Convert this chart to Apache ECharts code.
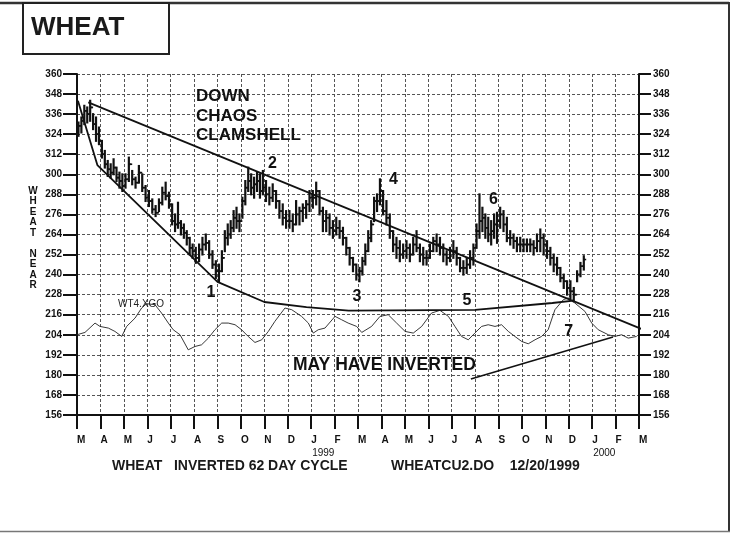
<!DOCTYPE html>
<html>
<head>
<meta charset="utf-8">
<script src="https://cdn.jsdelivr.net/npm/echarts@6/dist/echarts.min.js"></script>
<style>
  html, body { margin: 0; padding: 0; background: #fff; }
  #chart { width: 731px; height: 533px; }
</style>
</head>
<body>
<div id="chart"></div>
<script>
// x axis runs in months from Mar 1998 (0) to Mar 2000 (24)
const monthLabels = ['M','A','M','J','J','A','S','O','N','D','J','F','M','A','M','J','J','A','S','O','N','D','J','F','M'];
const yearLabels = { 10: '1999', 22: '2000' };

// price bars, one inner array per month (Mar 98 .. Dec 99)
const highs = [
  [331,334,341,340,344,336,334,328],
  [320,314,308,306,309,304,301,300],
  [300,310,302,298,305,300,293],
  [290,285,281,285,292,295,289],
  [282,276,283,272,270,266,262,258],
  [256,258,262,264,260,254,248],
  [246,254,266,270,272,278,280,276],
  [286,296,304,300,298,301,300,302],
  [296,292,294,290,284,282,278],
  [278,276,284,280,282,284,290],
  [290,295,290,280,278,276,272],
  [274,272,268,262,256,250,246],
  [244,250,258,266,272,286,288,297],
  [290,284,276,266,262,260,258],
  [260,258,262,266,258,256,254],
  [258,262,264,262,258,254,256],
  [260,256,250,248,250,254,258],
  [270,288,280,276,274,272,276,277],
  [280,278,274,266,264,262,262],
  [261,261,261,260,264,267,264],
  [260,256,252,250,244,240,236],
  [236,232,242,247,251]
];
const lows = [
  [323,325,330,331,332,327,320,318],
  [310,304,299,298,300,296,292,290],
  [292,296,294,292,295,290,284],
  [281,277,275,278,282,285,280],
  [270,266,268,264,262,258,252,250],
  [247,248,252,255,250,244,238],
  [236,242,254,258,262,266,268,266],
  [274,282,290,288,286,290,286,288],
  [284,282,284,280,274,270,268],
  [268,266,270,270,272,274,278],
  [280,282,276,266,266,264,262],
  [264,262,258,252,246,242,237],
  [236,240,246,254,260,272,278,282],
  [276,270,262,254,250,248,250],
  [250,248,252,254,248,246,246],
  [250,254,254,252,248,246,248],
  [250,246,242,240,241,244,246],
  [256,262,266,262,260,258,262,259],
  [268,266,260,258,256,254,254],
  [254,254,254,252,254,254,252],
  [250,246,242,240,236,232,228],
  [226,224,236,239,243]
];
const closes = [
  [329,332,338,336,340,330,324,320],
  [312,306,303,301,304,298,296,293],
  [297,306,297,295,301,292,286],
  [284,279,277,283,289,287,282],
  [272,270,271,268,265,262,256,254],
  [250,255,258,259,252,246,242],
  [242,250,262,264,268,274,272,272],
  [284,292,296,292,294,296,290,292],
  [288,286,290,284,278,274,272],
  [272,270,276,278,280,282,286],
  [286,290,278,272,274,268,266],
  [268,266,262,256,250,246,240],
  [242,248,254,262,270,284,284,290],
  [278,274,266,258,256,252,254],
  [256,252,258,256,252,250,250],
  [254,260,258,256,252,250,254],
  [254,250,244,244,246,250,256],
  [266,272,274,268,264,266,270,272],
  [276,270,262,262,260,258,258],
  [258,258,258,256,260,262,258],
  [254,250,246,244,238,236,232],
  [230,228,240,245,249]
];

// WT4.XGO cycle line [month, value]
const cycle = [
  [0,204],[0.34,205.4],[0.77,211],[0.98,209],[1.34,208],[1.62,206],[1.91,203],
  [2.12,209],[2.48,214],[2.76,220],[2.97,222.6],[3.33,222],[3.61,217],[3.9,211],
  [4.11,207],[4.4,204],[4.75,195],[5.04,197],[5.32,198],[5.61,202],[5.89,207],
  [6.18,211],[6.46,211],[6.75,210],[7.03,207],[7.31,203],[7.6,199.4],[7.89,201],
  [8.17,206],[8.45,212],[8.88,220],[9.17,219],[9.59,215],[9.88,211],[10.09,205],
  [10.3,207],[10.59,208],[11.02,215],[11.3,213],[11.58,211],[11.94,209],[12.16,205.4],
  [12.58,209],[12.94,215],[13.29,216],[13.65,211],[14.01,206],[14.36,205],[14.72,209],
  [15.14,217],[15.5,218.6],[15.86,215],[16.14,209],[16.42,203],[16.71,201],[16.99,205],
  [17.28,209],[17.56,210],[17.85,209],[18.13,210],[18.42,206],[18.7,203],[18.99,200],
  [19.27,198.6],[19.56,201],[19.84,203],[20.12,207],[20.41,219],[20.77,225],[20.98,226],
  [21.26,223],[21.69,218],[21.98,211],[22.26,207],[22.69,204],[22.97,203],[23.26,204],
  [23.54,202],[23.9,203]
];

// hand drawn lines
const downLine = [[0.48,343],[25.24,201]];
const clamLine = [[0.04,344],[0.87,305.5],[6.0,235.6],[8.0,223.6],[9.8,220.5],[11.6,218.4],[17.0,218.9],[20.3,223],[21.2,224.4]];
const invertLine = [[16.82,177.6],[22.89,202.7]];

// numbered notes
const noteText = ['1','2','3','4','5','6','7'];
const notePos = [[5.72,229.3],[8.35,306.5],[11.96,226.9],[13.51,296.6],[16.65,224.2],[17.78,284.6],[21.0,206]];

const FONT = '"Liberation Sans", Arial, Helvetica, sans-serif';

const bars = [];
let prevClose = null;
highs.forEach((month, m) => {
  const step = 1 / Math.max(month.length, 7);
  month.forEach((h, i) => {
    const c = closes[m][i];
    const o = prevClose === null ? c : prevClose;
    bars.push([m + (i + 0.5) * step, h, lows[m][i], c, o]);
    prevClose = c;
  });
});

const chart = echarts.init(document.getElementById('chart'), null, { renderer: 'canvas' });

const dashed = { type: [3, 2], color: '#555', width: 1 };

chart.setOption({
  animation: false,
  backgroundColor: '#fff',
  grid: { left: 77, right: 92, top: 74, bottom: 118 },
  xAxis: {
    type: 'value', min: 0, max: 24, interval: 1,
    axisLine: { show: true, onZero: false, lineStyle: { color: '#111', width: 2 } },
    axisTick: { show: true, length: 14, lineStyle: { color: '#111', width: 2 } },
    splitLine: { show: true, lineStyle: dashed },
    axisLabel: {
      margin: 19, align: 'left', color: '#111',
      formatter: v => {
        const i = Math.round(v);
        const y = yearLabels[i];
        return y ? '{m|' + monthLabels[i] + '}\n{y|' + y + '}' : '{m|' + monthLabels[i] + '}';
      },
      rich: {
        m: { fontFamily: FONT, fontSize: 10, fontWeight: 'bold', lineHeight: 13, color: '#111' },
        y: { fontFamily: FONT, fontSize: 10, lineHeight: 13, color: '#111', padding: [0, 0, 0, 1] }
      }
    }
  },
  yAxis: [
    {
      type: 'value', min: 156, max: 360, interval: 12, position: 'left',
      axisLine: { show: true, lineStyle: { color: '#111', width: 2 } },
      axisTick: { show: true, length: 14, lineStyle: { color: '#111', width: 2 } },
      splitLine: { show: true, lineStyle: dashed },
      axisLabel: { margin: 15, fontFamily: FONT, fontSize: 10, fontWeight: 'bold', color: '#111' }
    },
    {
      type: 'value', min: 156, max: 360, interval: 12, position: 'right',
      axisLine: { show: true, lineStyle: { color: '#111', width: 2 } },
      axisTick: { show: true, length: 12, lineStyle: { color: '#111', width: 2 } },
      splitLine: { show: false },
      axisLabel: { margin: 14, fontFamily: FONT, fontSize: 10, fontWeight: 'bold', color: '#111' }
    }
  ],
  series: [
    {
      type: 'custom',
      data: bars,
      renderItem: (params, api) => {
        const x = api.value(0);
        const hi = api.coord([x, api.value(1)]);
        const lo = api.coord([x, api.value(2)]);
        const cl = api.coord([x, api.value(3)]);
        const op = api.coord([x, api.value(4)]);
        return {
          type: 'group',
          children: [
            { type: 'line', shape: { x1: hi[0], y1: hi[1] - 1, x2: lo[0], y2: lo[1] + 1 }, style: { stroke: '#111', lineWidth: 2.2 } },
            { type: 'line', shape: { x1: cl[0], y1: cl[1], x2: cl[0] + 2.4, y2: cl[1] }, style: { stroke: '#111', lineWidth: 1.6 } },
            { type: 'line', shape: { x1: op[0] - 2.4, y1: op[1], x2: op[0], y2: op[1] }, style: { stroke: '#111', lineWidth: 1.6 } }
          ]
        };
      },
      z: 3
    },
    {
      type: 'line', data: cycle, symbol: 'none', smooth: false,
      lineStyle: { color: '#222', width: 0.9 }, z: 2
    },
    {
      type: 'line', data: downLine, symbol: 'none', clip: false,
      lineStyle: { color: '#111', width: 1.8 }, z: 4
    },
    {
      type: 'line', data: clamLine, symbol: 'none',
      lineStyle: { color: '#111', width: 1.8 }, z: 4
    },
    {
      type: 'line', data: invertLine, symbol: 'none',
      lineStyle: { color: '#111', width: 1.6 }, z: 4
    },
    {
      type: 'scatter', symbolSize: 0,
      itemStyle: { color: '#111', opacity: 1 },
      data: notePos.map((p, i) => ({ value: p, name: noteText[i] })),
      label: {
        show: true, position: 'inside', formatter: '{b}',
        fontFamily: FONT, fontSize: 16, fontWeight: 'bold', color: '#111',
        textBorderWidth: 0, opacity: 1
      },
      z: 5
    }
  ],
  graphic: [
    { type: 'line', shape: { x1: 0, y1: 3, x2: 729, y2: 3 }, style: { stroke: '#333', lineWidth: 2.5 } },
    { type: 'line', shape: { x1: 729, y1: 2, x2: 729, y2: 532 }, style: { stroke: '#333', lineWidth: 2 } },
    { type: 'line', shape: { x1: 0, y1: 531.5, x2: 730, y2: 531.5 }, style: { stroke: '#777', lineWidth: 1.5 } },
    { type: 'rect', shape: { x: 23, y: 3, width: 146, height: 51 }, style: { fill: '#fff', stroke: '#222', lineWidth: 2 } },
    { type: 'text', style: { text: 'WHEAT', x: 31, y: 28, verticalAlign: 'middle', font: 'bold 26px ' + FONT, fill: '#1a1a1a' } },
    { type: 'text', style: { text: 'W\nH\nE\nA\nT\n\nN\nE\nA\nR', x: 33, y: 186, align: 'center', lineHeight: 10.45, font: 'bold 10px ' + FONT, fill: '#111' } },
    { type: 'text', z: 10, style: { text: 'DOWN\nCHAOS\nCLAMSHELL', x: 196, y: 87, lineHeight: 19.5, font: 'bold 17px ' + FONT, fill: '#111' } },
    { type: 'text', z: 10, style: { text: 'MAY HAVE INVERTED', x: 293, y: 365, verticalAlign: 'middle', font: 'bold 17.5px ' + FONT, fill: '#111' } },
    { type: 'text', z: 10, style: { text: 'WT4.XGO', x: 118, y: 304, verticalAlign: 'middle', font: '10px ' + FONT, fill: '#222' } },
    { type: 'text', style: { text: 'WHEAT   INVERTED 62 DAY CYCLE', x: 112, y: 466, verticalAlign: 'middle', font: 'bold 14px ' + FONT, fill: '#1a1a1a' } },
    { type: 'text', style: { text: 'WHEATCU2.DO    12/20/1999', x: 391, y: 466, verticalAlign: 'middle', font: 'bold 14px ' + FONT, fill: '#1a1a1a' } }
  ]
});
</script>
</body>
</html>
